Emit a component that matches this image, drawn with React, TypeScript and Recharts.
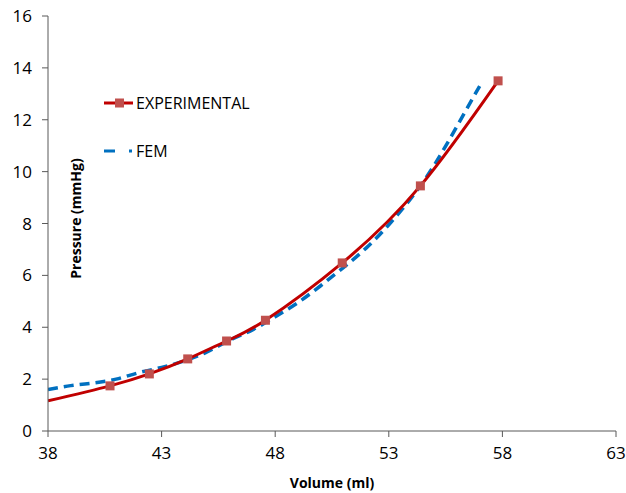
import React from "react";
import {
  LineChart,
  Line,
  XAxis,
  YAxis,
  Label,
} from "recharts";

// Experimental curve: first point is where the curve starts at the axis (no marker)
const expVolume = [38, 40.73, 42.46, 44.15, 45.86, 47.57, 50.95, 54.39, 57.81];
const expPressure = [1.16, 1.74, 2.2, 2.78, 3.47, 4.27, 6.48, 9.45, 13.5];

// FEM simulation
const femVolume = [38, 39, 40, 41, 42, 43, 44, 45, 46, 47, 48, 49, 50, 51, 52, 53, 54, 55, 56, 57];
const femPressure = [1.6, 1.75, 1.85, 2.0, 2.25, 2.45, 2.7, 3.05, 3.5, 3.9, 4.4, 4.95, 5.6, 6.3, 7.05, 7.95, 9.0, 10.25, 11.75, 13.3];

const xTicks = [38, 43, 48, 53, 58, 63];
const yTicks = [0, 2, 4, 6, 8, 10, 12, 14, 16];

const expData = expVolume.map((x, i) => ({ x, y: expPressure[i] }));
const femData = femVolume.map((x, i) => ({ x, y: femPressure[i] }));

const FONT = "'Open Sans', sans-serif";
const RED = "#c00000";
const MARKER = "#c0504d";
const BLUE = "#0070c0";
const AXIS = "#595959";

const SquareDot = (props: any) => {
  const { cx, cy, index } = props;
  if (index === 0 || cx == null) return <g key={`d-${index}`} />;
  return (
    <rect
      key={`d-${index}`}
      x={cx - 4.5}
      y={cy - 4.5}
      width={9}
      height={9}
      fill={MARKER}
    />
  );
};

const LegendBox = () => (
  <div
    style={{
      position: "absolute",
      left: 103,
      top: 93,
      fontFamily: FONT,
      fontSize: 16,
      color: "#000",
      lineHeight: "20px",
    }}
  >
    <div style={{ display: "flex", alignItems: "center", height: 20 }}>
      <svg width={33} height={12}>
        <line x1={1} y1={6} x2={30} y2={6} stroke={RED} strokeWidth={3} />
        <rect x={12} y={1.5} width={9} height={9} fill={MARKER} />
      </svg>
      <span>EXPERIMENTAL</span>
    </div>
    <div style={{ display: "flex", alignItems: "center", height: 20, marginTop: 28 }}>
      <svg width={33} height={12}>
        <line x1={1} y1={6} x2={30} y2={6} stroke={BLUE} strokeWidth={3} strokeDasharray="11 14 3 10" />
      </svg>
      <span>FEM</span>
    </div>
  </div>
);

export default function App() {
  return (
    <div style={{ position: "absolute", left: 0, top: 0, background: "#fff" }}>
      <LineChart
        width={626}
        height={493}
        margin={{ top: 16, right: 10, left: 8, bottom: 0 }}
      >
        <XAxis
          type="number"
          dataKey="x"
          domain={[38, 63]}
          ticks={xTicks}
          allowDataOverflow
          height={62}
          tickSize={6}
          tickMargin={10}
          stroke={AXIS}
          tick={{ fill: "#000", fontSize: 17, fontFamily: FONT }}
        >
          <Label
            value="Volume (ml)"
            position="insideBottom"
            offset={5}
            style={{ fontFamily: FONT, fontSize: 14, fontWeight: 700, fill: "#000" }}
          />
        </XAxis>
        <YAxis
          type="number"
          dataKey="y"
          domain={[0, 16]}
          ticks={yTicks}
          width={40}
          tickSize={6}
          tickMargin={10}
          stroke={AXIS}
          tick={{ fill: "#000", fontSize: 17, fontFamily: FONT }}
        >
          <Label
            content={(p: any) => {
              const vb = p.viewBox || {};
              const cx = vb.x + vb.width + 27;
              const cy = vb.y + vb.height / 2 - 5;
              return (
                <text
                  x={cx}
                  y={cy}
                  transform={`rotate(-90, ${cx}, ${cy})`}
                  textAnchor="middle"
                  dominantBaseline="central"
                  style={{ fontFamily: FONT, fontSize: 14, fontWeight: 700, fill: "#000" }}
                >
                  Pressure (mmHg)
                </text>
              );
            }}
          />
        </YAxis>
        <Line
          data={femData}
          dataKey="y"
          name="FEM"
          type="natural"
          stroke={BLUE}
          strokeWidth={3.5}
          strokeDasharray="10 6"
          dot={false}
          isAnimationActive={false}
        />
        <Line
          data={expData}
          dataKey="y"
          name="EXPERIMENTAL"
          type="natural"
          stroke={RED}
          strokeWidth={3}
          dot={SquareDot}
          activeDot={false}
          isAnimationActive={false}
        />
      </LineChart>
      <LegendBox />
    </div>
  );
}
